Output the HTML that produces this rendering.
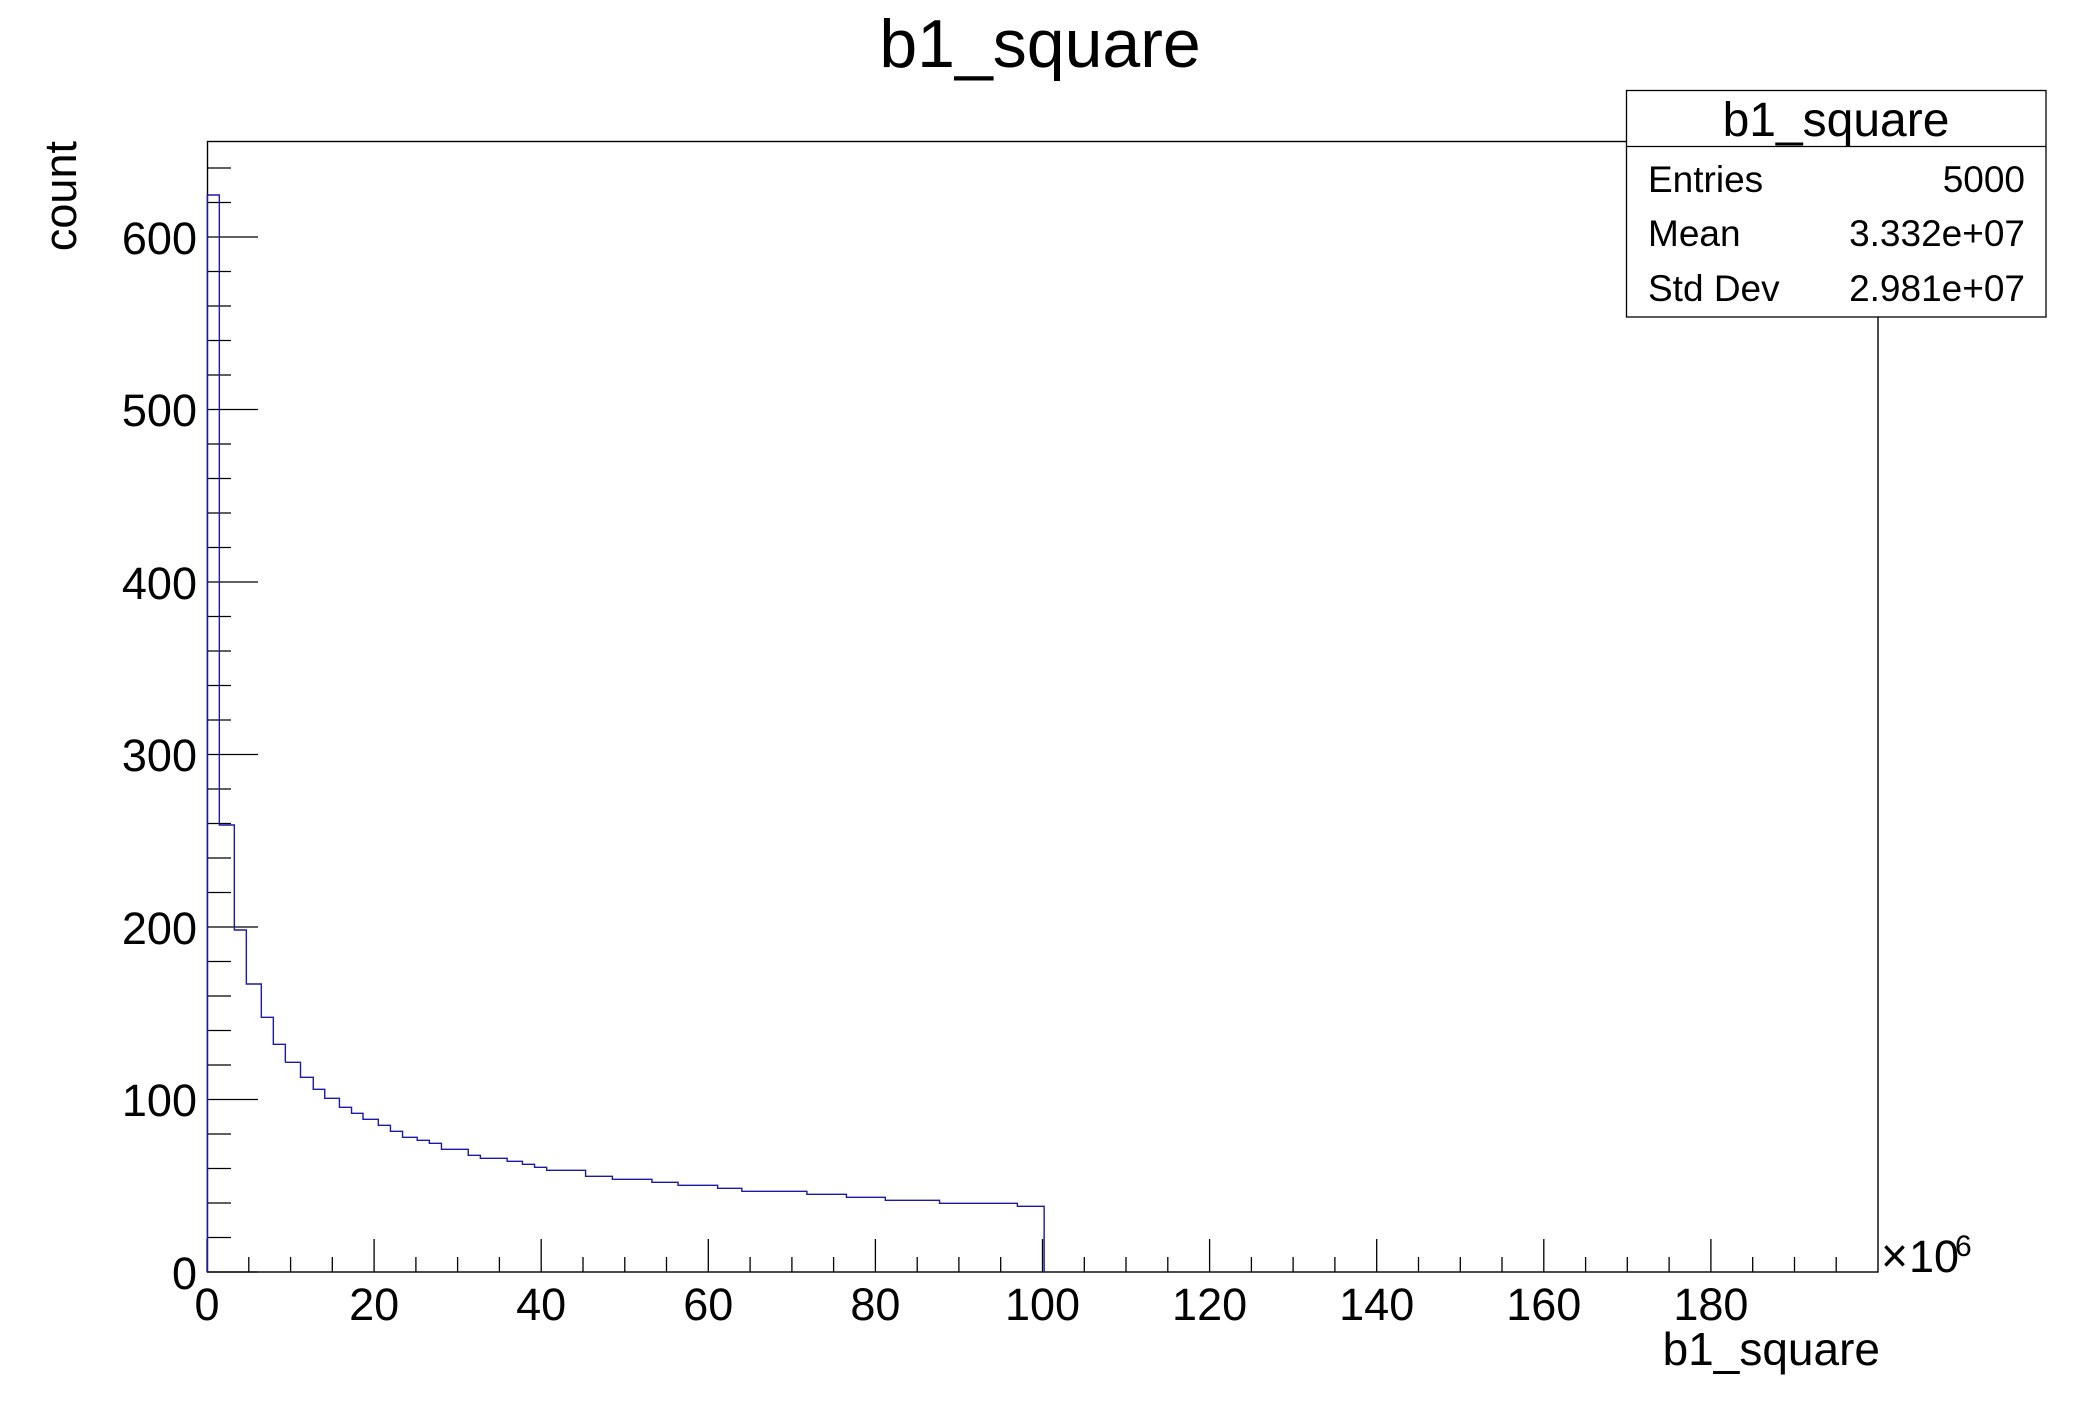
<!DOCTYPE html>
<html><head><meta charset="utf-8"><style>
html,body{margin:0;padding:0;background:#fff;}
svg{display:block;font-family:"Liberation Sans",Arial,sans-serif;}
</style></head><body>
<svg width="2088" height="1416" viewBox="0 0 2088 1416" xmlns="http://www.w3.org/2000/svg">
<rect width="2088" height="1416" fill="#fff"/>
<text x="1040" y="67" font-size="68" text-anchor="middle">b1_square</text>
<rect x="207.5" y="141.5" width="1670.5" height="1130.5" fill="none" stroke="#000" stroke-width="1.4"/>
<g stroke="#000" stroke-width="1.3">
<path d="M207 1272H258 M207 1099.5H258 M207 927H258 M207 754.5H258 M207 582H258 M207 409.5H258 M207 237H258"/>
<path d="M207 1237.5H231 M207 1203H231 M207 1168.5H231 M207 1134H231 M207 1065H231 M207 1030.5H231 M207 996H231 M207 961.5H231 M207 892.5H231 M207 858H231 M207 823.5H231 M207 789H231 M207 720H231 M207 685.5H231 M207 651H231 M207 616.5H231 M207 547.5H231 M207 513H231 M207 478.5H231 M207 444H231 M207 375H231 M207 340.5H231 M207 306H231 M207 271.5H231 M207 202.5H231 M207 168H231"/>
</g>
<g id="xt" stroke="#000" stroke-width="1.3"></g>
<g font-size="45" text-anchor="end">
<text x="197" y="1289">0</text><text x="197" y="1116">100</text><text x="197" y="944">200</text><text x="197" y="771">300</text><text x="197" y="599">400</text><text x="197" y="426">500</text><text x="197" y="254">600</text>
</g>
<g font-size="45" text-anchor="middle" id="xl"></g>
<text x="1881" y="1272" font-size="48" textLength="27" lengthAdjust="spacingAndGlyphs">×</text>
<text x="1909" y="1272" font-size="45">10</text>
<text x="1955" y="1256" font-size="30">6</text>
<text x="1880" y="1365" font-size="46" text-anchor="end">b1_square</text>
<text transform="translate(76,141) rotate(-90)" font-size="45" text-anchor="end">count</text>
<g fill="none" stroke="#1a1aa6" stroke-width="1.4">
<path vector-effect="non-scaling-stroke" transform="translate(200,800) scale(0.33333)" d="M22 1416V-1815H58V75H103V390H139V552H184V652H220V733H256V787"/>
<path vector-effect="non-scaling-stroke" transform="translate(150,1050) scale(0.63776,0.33333)" d="M212 37H236V82H256V118H274V145H297V172H316V190H334V208H358V226H377V244H396V262H419V271H438V280H457V298H499V316H518V325H560V334H584V343H603V352H622V361H683V379H725V388H787V397H828V406H890V415H928V424H1030V433H1092V442H1153V451H1238V460H1360V469H1402V666"/>
</g>
<rect x="1626.5" y="90.5" width="419.5" height="226.5" fill="#fff" stroke="#000" stroke-width="1.3"/>
<line x1="1626" y1="146.5" x2="2046" y2="146.5" stroke="#000" stroke-width="1.3"/>
<text x="1836" y="136" font-size="48" text-anchor="middle">b1_square</text>
<g font-size="37">
<text x="1648" y="192">Entries</text><text x="2025" y="192" text-anchor="end">5000</text>
<text x="1648" y="246">Mean</text><text x="2025" y="246" text-anchor="end">3.332e+07</text>
<text x="1648" y="301">Std Dev</text><text x="2025" y="301" text-anchor="end">2.981e+07</text>
</g>
<script>
var g=document.getElementById('xt'),l=document.getElementById('xl'),d='',ns='http://www.w3.org/2000/svg';
for(var i=0;i<40;i++){var x=207+i*41.775;var len=(i%4==0)?33:15;d+='M'+x.toFixed(1)+' 1272V'+(1272-len);}
var p=document.createElementNS(ns,'path');p.setAttribute('d',d);g.appendChild(p);
for(var k=0;k<10;k++){var t=document.createElementNS(ns,'text');t.setAttribute('x',(207+k*167.1).toFixed(1));t.setAttribute('y','1320');t.textContent=String(k*20);l.appendChild(t);}
</script>
</svg>
</body></html>
